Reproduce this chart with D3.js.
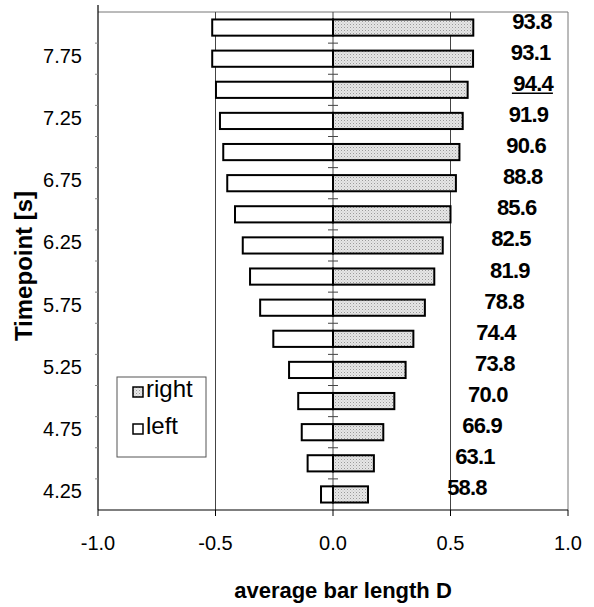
<!DOCTYPE html>
<html>
<head>
<meta charset="utf-8">
<script src="https://d3js.org/d3.v7.min.js"></script>
<style>
  body { margin: 0; background: #fff; }
  svg { display: block; font-family: "Liberation Sans", Arial, sans-serif; }
</style>
</head>
<body>
<svg class="chart"></svg>
<script>
var width = 594,
    height = 607;

// timepoints, bottom to top
var timepoints = [4.25, 4.5, 4.75, 5.0, 5.25, 5.5, 5.75, 6.0, 6.25, 6.5, 6.75, 7.0, 7.25, 7.5, 7.75, 8.0];
var rightVals = [0.149, 0.174, 0.214, 0.261, 0.309, 0.342, 0.391, 0.431, 0.467, 0.500, 0.523, 0.538, 0.552, 0.573, 0.596, 0.597];
var leftVals = [-0.051, -0.108, -0.133, -0.148, -0.187, -0.254, -0.310, -0.353, -0.384, -0.417, -0.450, -0.467, -0.481, -0.498, -0.514, -0.514];
var pctLabels = [58.8, 63.1, 66.9, 70.0, 73.8, 74.4, 78.8, 81.9, 82.5, 85.6, 88.8, 90.6, 91.9, 94.4, 93.1, 93.8];
var underlined = [7.5];
var yTickLabels = [4.25, 4.75, 5.25, 5.75, 6.25, 6.75, 7.25, 7.75];
var xTicks = [-1.0, -0.5, 0.0, 0.5, 1.0];
var legendItems = ["right", "left"];

var rows = timepoints.map((t, i) => ({ t: t, right: rightVals[i], left: leftVals[i], pct: pctLabels[i] }));

var margin = { top: 12, right: 26, bottom: 97, left: 98 };
var plotW = width - margin.left - margin.right,
    plotH = height - margin.top - margin.bottom;

var svg = d3.select(".chart")
  .attr("width", width)
  .attr("height", height);

var defs = svg.append("defs");
var pat = defs.append("pattern")
  .attr("id", "dots")
  .attr("width", 3).attr("height", 3)
  .attr("patternUnits", "userSpaceOnUse");
pat.append("rect").attr("width", 3).attr("height", 3).attr("fill", "#e6e6e6");
pat.append("rect").attr("width", 1).attr("height", 1).attr("fill", "#9a9a9a");
pat.append("rect").attr("x", 1.5).attr("y", 1.5).attr("width", 1).attr("height", 1).attr("fill", "#c0c0c0");

var g = svg.append("g").attr("transform", `translate(${margin.left},${margin.top})`);

var x = d3.scaleLinear().domain([-1, 1]).range([0, plotW]);
var y = d3.scaleBand()
  .domain(timepoints.slice().reverse())
  .range([0, plotH])
  .paddingInner(0.48)
  .paddingOuter(0.24);
var yStep = y.step();
var yc = t => y(t) + y.bandwidth() / 2;

// label position for the percentages
var labelPos = d3.scaleLinear().domain([50, 100]).range([0.585, 0.98]);

// plot frame (top + right)
g.append("line").attr("x1", 0).attr("x2", plotW).attr("y1", 0).attr("y2", 0)
  .attr("stroke", "#777").attr("stroke-width", 1);
g.append("line").attr("x1", plotW).attr("x2", plotW).attr("y1", 0).attr("y2", plotH)
  .attr("stroke", "#777").attr("stroke-width", 1);

// vertical gridlines
g.selectAll(".grid")
  .data([-0.5, 0, 0.5])
  .enter().append("line")
    .attr("class", "grid")
    .attr("x1", d => x(d)).attr("x2", d => x(d))
    .attr("y1", 0).attr("y2", plotH)
    .attr("stroke", "#444").attr("stroke-width", 1);

// cross ticks on the zero line at category boundaries
var bounds = timepoints.slice(1).map(t => yc(t) + yStep / 2);
g.selectAll(".cross")
  .data(bounds)
  .enter().append("line")
    .attr("class", "cross")
    .attr("x1", x(0) - 5).attr("x2", x(0) + 5)
    .attr("y1", d => d).attr("y2", d => d)
    .attr("stroke", "#444").attr("stroke-width", 1);

// bars
g.selectAll(".bar-left")
  .data(rows)
  .enter().append("rect")
    .attr("class", "bar-left")
    .attr("x", d => x(d.left))
    .attr("y", d => y(d.t))
    .attr("width", d => x(0) - x(d.left))
    .attr("height", y.bandwidth())
    .attr("fill", "#fff")
    .attr("stroke", "#000").attr("stroke-width", 2);

g.selectAll(".bar-right")
  .data(rows)
  .enter().append("rect")
    .attr("class", "bar-right")
    .attr("x", x(0))
    .attr("y", d => y(d.t))
    .attr("width", d => x(d.right) - x(0))
    .attr("height", y.bandwidth())
    .attr("fill", "url(#dots)")
    .attr("stroke", "#000").attr("stroke-width", 2);

// percentage labels
g.selectAll(".pct")
  .data(rows)
  .enter().append("text")
    .attr("class", "pct")
    .attr("x", d => x(labelPos(d.pct)))
    .attr("y", d => yc(d.t) + 1)
    .attr("text-anchor", "end")
    .attr("font-size", 22)
    .attr("font-weight", "bold")
    .attr("letter-spacing", -0.8)
    .text(d => d.pct.toFixed(1));

g.selectAll(".uline")
  .data(rows.filter(d => underlined.indexOf(d.t) >= 0))
  .enter().append("line")
    .attr("class", "uline")
    .attr("x1", d => x(labelPos(d.pct)) - 41)
    .attr("x2", d => x(labelPos(d.pct)))
    .attr("y1", d => yc(d.t) + 3.5).attr("y2", d => yc(d.t) + 3.5)
    .attr("stroke", "#000").attr("stroke-width", 1.5);

// left axis
g.append("line").attr("x1", 0).attr("x2", 0).attr("y1", -7).attr("y2", plotH)
  .attr("stroke", "#000").attr("stroke-width", 1.2);
g.selectAll(".ytick")
  .data(bounds)
  .enter().append("line")
    .attr("class", "ytick")
    .attr("x1", -3).attr("x2", 0)
    .attr("y1", d => d).attr("y2", d => d)
    .attr("stroke", "#888");
g.selectAll(".ylabel")
  .data(yTickLabels)
  .enter().append("text")
    .attr("class", "ylabel")
    .attr("x", -16)
    .attr("y", d => yc(d) + 4)
    .attr("text-anchor", "end")
    .attr("font-size", 20)
    .text(d => d.toFixed(2));

// bottom axis
g.append("line").attr("x1", 0).attr("x2", plotW).attr("y1", plotH).attr("y2", plotH)
  .attr("stroke", "#000").attr("stroke-width", 1.2);
g.selectAll(".xtick")
  .data(xTicks)
  .enter().append("line")
    .attr("class", "xtick")
    .attr("x1", d => x(d)).attr("x2", d => x(d))
    .attr("y1", plotH).attr("y2", plotH + 6)
    .attr("stroke", "#000");
g.selectAll(".xlabel")
  .data(xTicks)
  .enter().append("text")
    .attr("class", "xlabel")
    .attr("x", d => x(d))
    .attr("y", plotH + 40)
    .attr("text-anchor", "middle")
    .attr("font-size", 20)
    .text(d => d.toFixed(1));

// axis titles
g.append("text")
  .attr("x", x(0) + 10)
  .attr("y", plotH + 88)
  .attr("text-anchor", "middle")
  .attr("font-size", 22)
  .attr("font-weight", "bold")
  .text("average bar length D");

svg.append("text")
  .attr("transform", "translate(24,266) rotate(-90)")
  .attr("dy", "0.35em")
  .attr("text-anchor", "middle")
  .attr("font-size", 24)
  .attr("font-weight", "bold")
  .text("Timepoint [s]");

// legend
var legend = svg.append("g").attr("transform", "translate(117,377)");
legend.append("rect")
  .attr("width", 89).attr("height", 80)
  .attr("fill", "#fff")
  .attr("stroke", "#555").attr("stroke-width", 1);
var li = legend.selectAll(".item")
  .data(legendItems)
  .enter().append("g")
    .attr("class", "item")
    .attr("transform", (d, i) => `translate(16,${10 + i * 37})`);
li.append("rect")
  .attr("width", 10).attr("height", 10)
  .attr("fill", d => d === "right" ? "url(#dots)" : "#fff")
  .attr("stroke", "#000").attr("stroke-width", 1.5);
li.append("text")
  .attr("x", 13)
  .attr("y", 10)
  .attr("font-size", 24)
  .text(d => d);
</script>
</body>
</html>
